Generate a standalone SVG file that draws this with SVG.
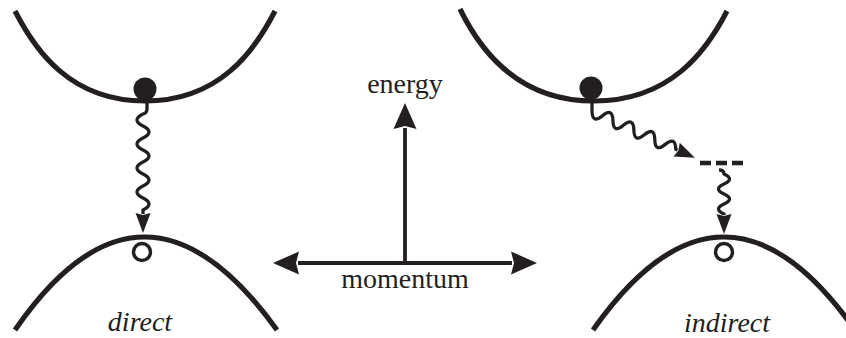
<svg xmlns="http://www.w3.org/2000/svg" width="846" height="338" viewBox="0 0 846 338">
  <style>
    .band { fill: none; stroke: #231f20; stroke-width: 5.2; stroke-linecap: butt; }
    .wave { fill: none; stroke: #231f20; stroke-width: 3.3; stroke-linejoin: round; }
    .axis { fill: none; stroke: #231f20; stroke-width: 3.8; }
    .dash { fill: none; stroke: #231f20; stroke-width: 4.5; stroke-dasharray: 11 5; }
    .electron { fill: #231f20; }
    .hole { fill: #fff; stroke: #231f20; stroke-width: 3.4; }
    .lbl { font-family: "Liberation Serif", "Times New Roman", serif; font-size: 28px; fill: #231f20; text-anchor: middle; }
    .it { font-style: italic; }
  </style>
  <defs>
    <marker id="arrW" markerUnits="userSpaceOnUse" viewBox="0 0 21 16" markerWidth="21" markerHeight="16" refX="1" refY="8" orient="auto">
      <path d="M0,0.5 L20,8 L0,15.5 L2,8 Z" fill="#231f20"/>
    </marker>
    <marker id="arrA" markerUnits="userSpaceOnUse" viewBox="0 0 27 24" markerWidth="27" markerHeight="24" refX="1" refY="12" orient="auto-start-reverse">
      <path d="M0,0.5 L26,12 L0,23.5 L3,12 Z" fill="#231f20"/>
    </marker>
  </defs>

  <g id="direct-conduction-band">
    <path class="band" d="M15,11 C35,50 70,101 145,101 C220,101 255,50 275,11"/>
  </g>
  <g id="direct-valence-band">
    <path class="band" d="M15,330 Q143,144 277,330"/>
  </g>
  <g id="indirect-conduction-band">
    <path class="band" d="M460,9 C480,50 517,101 594,101 C671,101 707,50 727,11"/>
  </g>
  <g id="indirect-valence-band">
    <path class="band" d="M593,330 Q724,144 855,330"/>
  </g>

  <g id="direct-electron"><circle class="electron" cx="145" cy="89" r="11.5"/></g>
  <g id="direct-hole"><circle class="hole" cx="142" cy="252" r="8.5"/></g>
  <g id="indirect-electron"><circle class="electron" cx="591" cy="88" r="11.5"/></g>
  <g id="indirect-hole"><circle class="hole" cx="724" cy="252" r="8.5"/></g>
  <g id="phonon-state"><path class="dash" d="M700,163 H743"/></g>

  <g id="axes">
    <path class="axis" d="M405,263 V128" marker-end="url(#arrA)"/>
    <path class="axis" d="M298,263 H512" marker-start="url(#arrA)" marker-end="url(#arrA)"/>
  </g>

  <g id="connectors">
    <path class="wave" d="M147,103 V109 q0,4 -4,5 q-12,6 0,12 t0,12 t0,12 t0,12 t0,12 t0,12 t0,12 t0,12 v4" marker-end="url(#arrW)"/>
    <path class="wave" d="M592,101 V111"/>
    <path class="wave" transform="translate(592,111) rotate(24.5)" d="M0,0 q5.75,12 11.5,0 t11.5,0 t11.5,0 t11.5,0 t11.5,0 t11.5,0 t11.5,0 t11.5,0 h2" marker-end="url(#arrW)"/>
    <path class="wave" d="M719,170 q5,0 5,4 q11,5 0,10 t0,10 t0,10 t0,10 v1" marker-end="url(#arrW)"/>
  </g>

  <g id="labels">
    <text class="lbl" x="405" y="93">energy</text>
    <text class="lbl" x="405" y="288">momentum</text>
    <text class="lbl it" x="140" y="331">direct</text>
    <text class="lbl it" x="727" y="332">indirect</text>
  </g>
</svg>
